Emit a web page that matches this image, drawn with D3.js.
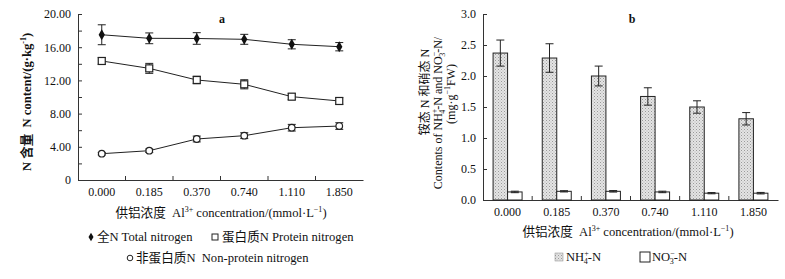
<!DOCTYPE html>
<html>
<head>
<meta charset="utf-8">
<script src="https://cdn.jsdelivr.net/npm/d3@7"></script>
<style>
  body { margin: 0; background: #fff; }
  text { font-family: "Liberation Serif", "Noto Sans CJK SC", serif; fill: #111; }
</style>
</head>
<body>
<div id="grafica"></div>
<script>
// datos
concentraciones = ['0.000', '0.185', '0.370', '0.740', '1.110', '1.850']

totalN      = [17.5, 17.07, 17.05, 16.95, 16.35, 16.06]
totalErr    = [1.2, 0.65, 0.7, 0.6, 0.55, 0.5]
proteinN    = [14.34, 13.45, 12.05, 11.53, 10.04, 9.52]
proteinErr  = [0.4, 0.6, 0.45, 0.55, 0.35, 0.4]
nonProtN    = [3.17, 3.53, 4.94, 5.34, 6.3, 6.5]
nonProtErr  = [0.15, 0.2, 0.35, 0.35, 0.4, 0.4]

nh4   = [2.37, 2.29, 2.0, 1.67, 1.5, 1.31]
nh4Err = [0.21, 0.23, 0.16, 0.14, 0.1, 0.1]
no3   = [0.13, 0.14, 0.14, 0.13, 0.11, 0.11]
no3Err = [0.012, 0.01, 0.012, 0.012, 0.01, 0.012]

ticksA = [0, 4, 8, 12, 16, 20]
ticksB = [0, 0.5, 1.0, 1.5, 2.0, 2.5, 3.0]

ancho_total = 785
alto_total = 279
eje = '#333'
sp = '\u00a0'
fs = 12.6

svg = d3.select('#grafica')
        .append('svg')
        .attr('width', ancho_total)
        .attr('height', alto_total)

defs = svg.append('defs')
pat = defs.append('pattern')
          .attr('id', 'puntos')
          .attr('width', 3).attr('height', 3)
          .attr('patternUnits', 'userSpaceOnUse')
pat.append('rect').attr('width', 3).attr('height', 3).attr('fill', '#e4e4e4')
pat.append('rect').attr('x', 0).attr('y', 0).attr('width', 1).attr('height', 1).attr('fill', '#9a9a9a')
pat.append('rect').attr('x', 1.5).attr('y', 1.5).attr('width', 1).attr('height', 1).attr('fill', '#b0b0b0')

// ---------- Gráfica a ----------
xa = d3.scaleBand().domain(concentraciones).range([78, 363])
ya = d3.scaleLinear().domain([0, 20]).range([180, 14])

ga = svg.append('g')

ga.append('g')
  .attr('transform', 'translate(78,0)')
  .call(d3.axisLeft(ya).tickValues(d3.range(0, 21, 2)).tickSize(-4)
          .tickFormat((d) => ticksA.includes(d) ? (d == 0 ? '0' : d3.format('.2f')(d)) : ''))
  .call((s) => {
    s.select('.domain').attr('stroke', eje)
    s.selectAll('line').attr('stroke', eje)
    s.selectAll('text').attr('font-size', 12).attr('x', -7).attr('fill', '#111')
      .attr('font-family', 'Liberation Serif')
  })

ga.append('g')
  .attr('transform', 'translate(0,180)')
  .call(d3.axisBottom(xa).tickSize(0).tickPadding(7))
  .call((s) => {
    s.select('.domain').attr('stroke', eje)
    s.selectAll('text').attr('font-size', 12).attr('fill', '#111')
      .attr('font-family', 'Liberation Serif')
  })

ga.selectAll('.sep')
  .data(concentraciones.slice(1))
  .enter().append('line')
  .attr('x1', (d) => xa(d)).attr('x2', (d) => xa(d))
  .attr('y1', 180).attr('y2', 176)
  .attr('stroke', eje)

series = [
  { key: 'total', v: totalN, e: totalErr },
  { key: 'protein', v: proteinN, e: proteinErr },
  { key: 'non', v: nonProtN, e: nonProtErr }
]
cx = (i) => xa(concentraciones[i]) + xa.bandwidth() / 2

linea = d3.line().x((d, i) => cx(i)).y((d) => ya(d))

series.forEach((s) => {
  ga.append('path')
    .datum(s.v)
    .attr('d', linea)
    .attr('fill', 'none')
    .attr('stroke', '#222')
    .attr('stroke-width', 1)

  eb = ga.append('g')
  s.v.forEach((v, i) => {
    eb.append('line').attr('x1', cx(i)).attr('x2', cx(i))
      .attr('y1', ya(v + s.e[i])).attr('y2', ya(v - s.e[i])).attr('stroke', '#222')
    ;[v + s.e[i], v - s.e[i]].forEach((t) => {
      eb.append('line').attr('x1', cx(i) - 4).attr('x2', cx(i) + 4)
        .attr('y1', ya(t)).attr('y2', ya(t)).attr('stroke', '#222')
    })
  })

  if (s.key == 'total') {
    ga.selectAll('.dia').data(s.v).enter().append('path')
      .attr('d', d3.symbol(d3.symbolDiamond, 34))
      .attr('transform', (d, i) => `translate(${cx(i)},${ya(d)})`)
      .attr('fill', '#111')
  } else if (s.key == 'protein') {
    ga.selectAll('.sq').data(s.v).enter().append('rect')
      .attr('x', (d, i) => cx(i) - 3.5).attr('y', (d) => ya(d) - 3.5)
      .attr('width', 7).attr('height', 7)
      .attr('fill', '#fff').attr('stroke', '#222').attr('stroke-width', 1.2)
  } else {
    ga.selectAll('.ci').data(s.v).enter().append('circle')
      .attr('cx', (d, i) => cx(i)).attr('cy', (d) => ya(d)).attr('r', 3.3)
      .attr('fill', '#fff').attr('stroke', '#222').attr('stroke-width', 1.2)
  }
})

ga.append('text').attr('x', 222).attr('y', 23).attr('text-anchor', 'middle')
  .attr('font-size', 12).attr('font-weight', 'bold').text('a')

ylabA = ga.append('text')
  .attr('transform', 'translate(31,102) rotate(-90)')
  .attr('text-anchor', 'middle')
  .attr('font-size', fs).attr('font-weight', 'bold')
ylabA.append('tspan').text('N 含量' + sp + sp + 'N content/(g·kg')
ylabA.append('tspan').attr('font-size', 8).attr('dy', -5).text('-1')
ylabA.append('tspan').attr('dy', 5).text(')')

xlabA = ga.append('text').attr('x', 221).attr('y', 217).attr('text-anchor', 'middle').attr('font-size', fs)
xlabA.append('tspan').text('供铝浓度' + sp + sp + 'Al')
xlabA.append('tspan').attr('font-size', 8).attr('dy', -5).text('3+')
xlabA.append('tspan').attr('dy', 5).text(' concentration/(mmol·L')
xlabA.append('tspan').attr('font-size', 8).attr('dy', -5).text('−1')
xlabA.append('tspan').attr('dy', 5).text(')')

// leyenda a
ga.append('path').attr('d', d3.symbol(d3.symbolDiamond, 22))
  .attr('transform', 'translate(91,237)').attr('fill', '#111')
ga.append('text').attr('x', 97).attr('y', 241).attr('font-size', fs).text('全N Total nitrogen')
ga.append('rect').attr('x', 212).attr('y', 234).attr('width', 6).attr('height', 6)
  .attr('fill', '#fff').attr('stroke', '#222')
ga.append('text').attr('x', 222).attr('y', 241).attr('font-size', fs).text('蛋白质N Protein nitrogen')
ga.append('circle').attr('cx', 130).attr('cy', 258).attr('r', 2.8)
  .attr('fill', '#fff').attr('stroke', '#222')
ga.append('text').attr('x', 136).attr('y', 262).attr('font-size', fs).text('非蛋白质N' + sp + sp + 'Non-protein nitrogen')

// ---------- Gráfica b ----------
xb = d3.scaleBand().domain(concentraciones).range([483, 778])
yb = d3.scaleLinear().domain([0, 3]).range([200, 14])
xsub = d3.scaleBand().domain(['nh4', 'no3']).range([0, 29])

gb = svg.append('g')

gb.append('g')
  .attr('transform', 'translate(483,0)')
  .call(d3.axisLeft(yb).tickValues(ticksB).tickSize(-4).tickFormat(d3.format('.1f')))
  .call((s) => {
    s.select('.domain').attr('stroke', eje)
    s.selectAll('line').attr('stroke', eje)
    s.selectAll('text').attr('font-size', 12).attr('x', -7).attr('fill', '#111')
      .attr('font-family', 'Liberation Serif')
  })

gb.append('g')
  .attr('transform', 'translate(0,200)')
  .call(d3.axisBottom(xb).tickSize(0).tickPadding(7))
  .call((s) => {
    s.select('.domain').attr('stroke', eje)
    s.selectAll('text').attr('font-size', 12).attr('fill', '#111')
      .attr('font-family', 'Liberation Serif')
  })

gb.selectAll('.sep')
  .data(concentraciones.slice(1))
  .enter().append('line')
  .attr('x1', (d) => xb(d)).attr('x2', (d) => xb(d))
  .attr('y1', 200).attr('y2', 196)
  .attr('stroke', eje)

off = (xb.bandwidth() - 29) / 2
barras = [
  { key: 'nh4', v: nh4, e: nh4Err, fill: 'url(#puntos)' },
  { key: 'no3', v: no3, e: no3Err, fill: '#fff' }
]

barras.forEach((b) => {
  gb.selectAll('.bar-' + b.key)
    .data(b.v)
    .enter().append('rect')
    .attr('x', (d, i) => xb(concentraciones[i]) + off + xsub(b.key))
    .attr('y', (d) => yb(d))
    .attr('width', xsub.bandwidth())
    .attr('height', (d) => yb(0) - yb(d))
    .attr('fill', b.fill)
    .attr('stroke', '#222')
    .attr('stroke-width', 1)

  b.v.forEach((v, i) => {
    c = xb(concentraciones[i]) + off + xsub(b.key) + xsub.bandwidth() / 2
    gb.append('line').attr('x1', c).attr('x2', c)
      .attr('y1', yb(v + b.e[i])).attr('y2', yb(v - b.e[i])).attr('stroke', '#222')
    ;[v + b.e[i], v - b.e[i]].forEach((t) => {
      gb.append('line').attr('x1', c - 4).attr('x2', c + 4)
        .attr('y1', yb(t)).attr('y2', yb(t)).attr('stroke', '#222')
    })
  })
})

gb.append('text').attr('x', 632).attr('y', 23).attr('text-anchor', 'middle')
  .attr('font-size', 12).attr('font-weight', 'bold').text('b')

// etiqueta eje y (tres líneas)
gb.append('text').attr('transform', 'translate(429,92) rotate(-90)')
  .attr('text-anchor', 'middle').attr('font-size', 12).text('铵态 N 和硝态 N')
l2 = gb.append('text').attr('transform', 'translate(442,113) rotate(-90)')
  .attr('text-anchor', 'middle').attr('font-size', 12)
l2.append('tspan').text('Contents of NH')
l2.append('tspan').attr('font-size', 8).attr('dy', -5).text('+')
l2.append('tspan').attr('font-size', 8).attr('dx', -5).attr('dy', 8).text('4')
l2.append('tspan').attr('dy', -3).text('-N and NO')
l2.append('tspan').attr('font-size', 8).attr('dy', -5).text('−')
l2.append('tspan').attr('font-size', 8).attr('dx', -5).attr('dy', 8).text('3')
l2.append('tspan').attr('dy', -3).text('-N/')
l3 = gb.append('text').attr('transform', 'translate(455,94) rotate(-90)')
  .attr('text-anchor', 'middle').attr('font-size', 12)
l3.append('tspan').text('(mg·g')
l3.append('tspan').attr('font-size', 8).attr('dy', -5).text('−1')
l3.append('tspan').attr('dy', 5).text('FW)')

xlabB = gb.append('text').attr('x', 628).attr('y', 236).attr('text-anchor', 'middle').attr('font-size', fs)
xlabB.append('tspan').text('供铝浓度' + sp + sp + 'Al')
xlabB.append('tspan').attr('font-size', 8).attr('dy', -5).text('3+')
xlabB.append('tspan').attr('dy', 5).text(' concentration/(mmol·L')
xlabB.append('tspan').attr('font-size', 8).attr('dy', -5).text('−1')
xlabB.append('tspan').attr('dy', 5).text(')')

// leyenda b
gb.append('rect').attr('x', 555).attr('y', 253).attr('width', 8).attr('height', 8)
  .attr('fill', 'url(#puntos)').attr('stroke', '#888').attr('stroke-width', 0.5)
lb1 = gb.append('text').attr('x', 566).attr('y', 261).attr('font-size', fs)
lb1.append('tspan').text('NH')
lb1.append('tspan').attr('font-size', 8).attr('dy', -5).text('+')
lb1.append('tspan').attr('font-size', 8).attr('dx', -5).attr('dy', 8).text('4')
lb1.append('tspan').attr('dy', -3).text('-N')
gb.append('rect').attr('x', 640).attr('y', 252).attr('width', 10).attr('height', 10)
  .attr('fill', '#fff').attr('stroke', '#222')
lb2 = gb.append('text').attr('x', 652).attr('y', 261).attr('font-size', fs)
lb2.append('tspan').text('NO')
lb2.append('tspan').attr('font-size', 8).attr('dy', -5).text('−')
lb2.append('tspan').attr('font-size', 8).attr('dx', -5).attr('dy', 8).text('3')
lb2.append('tspan').attr('dy', -3).text('-N')
</script>
</body>
</html>
